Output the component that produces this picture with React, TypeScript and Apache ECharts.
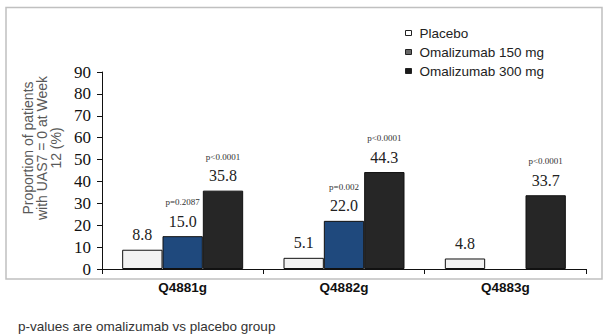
import React, { useEffect, useRef } from "react";
import * as echarts from "echarts";

const categories = ["Q4881g", "Q4882g", "Q4883g"];
const seriesNames = ["Placebo", "Omalizumab 150 mg", "Omalizumab 300 mg"];
const placeboValues: (number | null)[] = [8.8, 5.1, 4.8];
const oma150Values: (number | null)[] = [15.0, 22.0, null];
const oma300Values: (number | null)[] = [35.8, 44.3, 33.7];
const oma150PValues = ["p=0.2087", "p=0.002", ""];
const oma300PValues = ["p<0.0001", "p<0.0001", "p<0.0001"];
const yTicks = [0, 10, 20, 30, 40, 50, 60, 70, 80, 90];
const yTitleLines = ["Proportion of patients", "with UAS7 = 0 at Week", "12 (%)"];
const footnote = "p-values are omalizumab vs placebo group";

const SERIF = "'Liberation Serif', 'Times New Roman', serif";
const SANS = "'Liberation Sans', Arial, sans-serif";

const barColors = ["#f2f2f2", "#1f497d", "#262626"];
const legendColors = ["#ffffff", "#666666", "#1a1a1a"];

export default function App() {
  const ref = useRef<HTMLDivElement>(null);
  useEffect(() => {
    if (!ref.current) return;
    const chart = echarts.init(ref.current, undefined, { renderer: "svg" });
    const rich = {
      p: { fontSize: 9, lineHeight: 20, fontFamily: SERIF, color: "#333" },
      v: { fontSize: 16, lineHeight: 18, fontFamily: SERIF, color: "#222" },
    };
    const mkSeries = (name: string, values: (number | null)[], color: string, pvals: string[] | null) => ({
      name,
      type: "bar",
      data: values,
      barGap: "0%",
      barCategoryGap: "25%",
      itemStyle: { color, borderColor: "#111", borderWidth: 1 },
      label: {
        show: true,
        position: "top",
        distance: 6,
        formatter: (p: any) => {
          const v = Number(p.value).toFixed(1);
          const pv = pvals ? pvals[p.dataIndex] : "";
          return pv ? `{p|${pv}}\n{v|${v}}` : `{v|${v}}`;
        },
        rich,
      },
    });
    const titleX = [27.5, 41.5, 55.5];
    chart.setOption({
      animation: false,
      grid: { left: 102, right: 22, top: 72, bottom: 67, containLabel: false },
      legend: {
        orient: "vertical",
        left: 400,
        top: 21,
        itemWidth: 6,
        itemHeight: 5,
        itemGap: 5,
        icon: "rect",
        textStyle: {
          fontFamily: SANS,
          fontSize: 13.5,
          color: "#222",
          lineHeight: 14,
          padding: [0, 0, 0, 3],
        },
        data: seriesNames.map((n, i) => ({
          name: n,
          itemStyle: { color: legendColors[i], borderColor: "#222", borderWidth: 1 },
        })),
      },
      xAxis: {
        type: "category",
        data: categories,
        axisLine: { lineStyle: { color: "#111", width: 1 } },
        axisTick: { show: true, length: 5, lineStyle: { color: "#111" } },
        axisLabel: {
          margin: 11,
          fontFamily: SANS,
          fontWeight: "bold",
          fontSize: 13.5,
          color: "#111",
        },
      },
      yAxis: {
        type: "value",
        min: yTicks[0],
        max: yTicks[yTicks.length - 1],
        interval: 10,
        splitLine: { show: false },
        axisLine: { show: true, lineStyle: { color: "#111", width: 1 } },
        axisTick: { show: true, length: 5, lineStyle: { color: "#111" } },
        axisLabel: { margin: 11, fontFamily: SERIF, fontSize: 17, color: "#111" },
      },
      graphic: [
        {
          type: "rect",
          shape: { x: 6, y: 7.5, width: 596, height: 271.5 },
          style: { fill: "none", stroke: "#c0c0c0", lineWidth: 1.5 },
          silent: true,
          z: -10,
        },
        ...yTitleLines.map((line, i) => ({
          type: "text",
          x: titleX[i],
          y: 148,
          rotation: Math.PI / 2,
          style: {
            text: line,
            fontFamily: SANS,
            fontSize: 14,
            fill: "#595959",
            align: "center",
            verticalAlign: "middle",
          },
        })),
        {
          type: "text",
          x: 18,
          y: 326,
          style: {
            text: footnote,
            fontFamily: SANS,
            fontSize: 13.5,
            fill: "#333",
            align: "left",
            verticalAlign: "middle",
          },
        },
      ],
      series: [
        mkSeries(seriesNames[0], placeboValues, barColors[0], null),
        mkSeries(seriesNames[1], oma150Values, barColors[1], oma150PValues),
        mkSeries(seriesNames[2], oma300Values, barColors[2], oma300PValues),
      ],
    });
    return () => chart.dispose();
  }, []);
  return <div ref={ref} style={{ width: 608, height: 336, position: "absolute", left: 0, top: 0 }} />;
}
